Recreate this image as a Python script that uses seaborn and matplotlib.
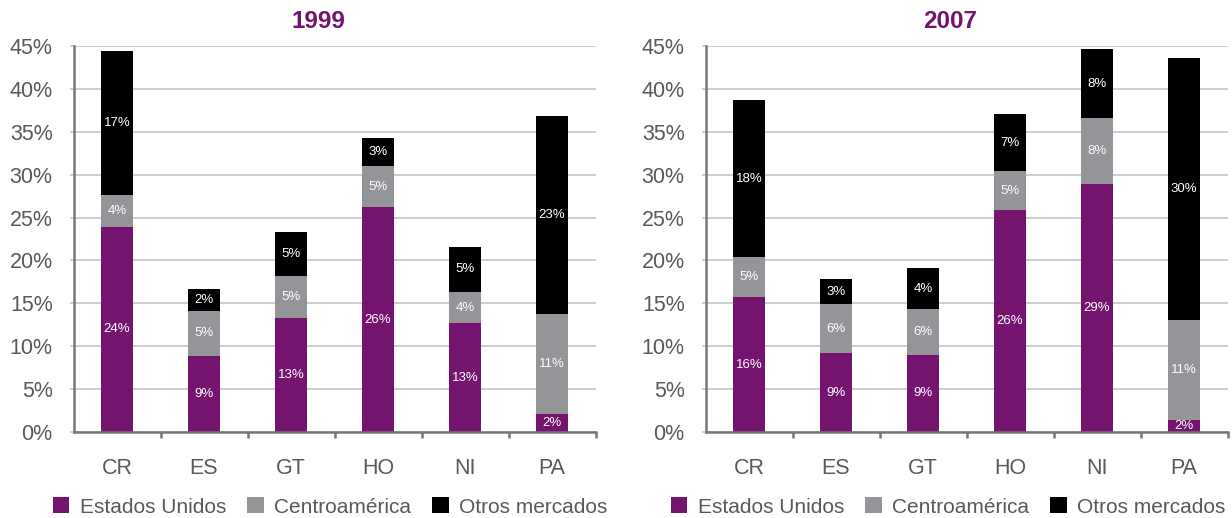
import matplotlib
matplotlib.use("Agg")
import matplotlib.pyplot as plt
import seaborn as sns
import numpy as np
from matplotlib.patches import Patch
from matplotlib.ticker import FixedLocator, FuncFormatter

# ---------------- data ----------------
categories = ["CR", "ES", "GT", "HO", "NI", "PA"]

us_1999 = [23.9, 8.9, 13.3, 26.2, 12.7, 2.1]
ca_1999 = [3.7, 5.2, 4.9, 4.8, 3.6, 11.6]
ot_1999 = [16.8, 2.6, 5.1, 3.3, 5.3, 23.1]
lab_us_1999 = ["24%", "9%", "13%", "26%", "13%", "2%"]
lab_ca_1999 = ["4%", "5%", "5%", "5%", "4%", "11%"]
lab_ot_1999 = ["17%", "2%", "5%", "3%", "5%", "23%"]

us_2007 = [15.7, 9.2, 9.0, 25.9, 28.9, 1.4]
ca_2007 = [4.7, 5.7, 5.3, 4.5, 7.7, 11.6]
ot_2007 = [18.3, 2.9, 4.8, 6.7, 8.0, 30.6]
lab_us_2007 = ["16%", "9%", "9%", "26%", "29%", "2%"]
lab_ca_2007 = ["5%", "6%", "6%", "5%", "8%", "11%"]
lab_ot_2007 = ["18%", "3%", "4%", "7%", "8%", "30%"]

series_names = ["Estados Unidos", "Centroamérica", "Otros mercados"]
y_ticks = [0, 5, 10, 15, 20, 25, 30, 35, 40, 45]

# ---------------- style ----------------
PURPLE = "#74146F"
GRAY = "#939598"
BLACK = "#000000"
TXT = "#595959"
colors = [PURPLE, GRAY, BLACK]

sns.set_theme(style="white")
plt.rcParams["font.family"] = ["Liberation Sans", "DejaVu Sans"]

W, H = 1232, 518
fig = plt.figure(figsize=(W / 100, H / 100), dpi=100)

ax_w = 522 / W
ax_h = (432 - 46) / H
ax_b = 1 - 432 / H
ax1 = fig.add_axes([73.5 / W, ax_b, ax_w, ax_h])
ax2 = fig.add_axes([705.5 / W, ax_b, ax_w, ax_h])


def draw(ax, us, ca, ot, lus, lca, lot):
    us = np.array(us)
    ca = np.array(ca)
    ot = np.array(ot)
    tot = us + ca + ot
    mid = us + ca
    for vals, col in [(tot, BLACK), (mid, GRAY), (us, PURPLE)]:
        sns.barplot(x=categories, y=vals, color=col, width=0.37,
                    saturation=1, ax=ax, linewidth=0, edgecolor="none",
                    errorbar=None)
    for i in range(len(categories)):
        ax.text(i, us[i] / 2, lus[i], ha="center", va="center",
                color="white", fontsize=9.5)
        ax.text(i, us[i] + ca[i] / 2, lca[i], ha="center", va="center",
                color="white", fontsize=9.5)
        ax.text(i, mid[i] + ot[i] / 2, lot[i], ha="center", va="center",
                color="white", fontsize=9.5)
    ax.set_xlim(-0.5, len(categories) - 0.5)
    ax.set_ylim(0, 45)
    ax.set_xlabel("")
    ax.set_ylabel("")
    ax.yaxis.set_major_locator(FixedLocator(y_ticks))
    ax.yaxis.set_major_formatter(FuncFormatter(lambda v, p: f"{v:.0f}%"))
    ax.grid(axis="y", color="#c0c0c0", linewidth=1.1)
    ax.grid(axis="x", visible=False)
    ax.set_axisbelow(True)
    for s in ["top", "right"]:
        ax.spines[s].set_visible(False)
    for s in ["left", "bottom"]:
        ax.spines[s].set_color("#777777")
        ax.spines[s].set_linewidth(1.8)
    ax.xaxis.set_minor_locator(FixedLocator(np.arange(0.5, len(categories), 1.0)))
    ax.tick_params(axis="x", which="major", length=0, pad=19,
                   labelsize=15.5, labelcolor=TXT)
    ax.tick_params(axis="x", which="minor", length=4, width=1.8,
                   color="#777777", direction="out", bottom=True)
    ax.tick_params(axis="y", which="major", length=3, width=1.1,
                   color="#c0c0c0", pad=12, labelsize=15.5, labelcolor=TXT,
                   left=True)


draw(ax1, us_1999, ca_1999, ot_1999, lab_us_1999, lab_ca_1999, lab_ot_1999)
draw(ax2, us_2007, ca_2007, ot_2007, lab_us_2007, lab_ca_2007, lab_ot_2007)

fig.text(318 / W, 1 - 22 / H, "1999", ha="center", va="center",
         fontsize=17.5, fontweight="bold", color=PURPLE)
fig.text(950 / W, 1 - 22 / H, "2007", ha="center", va="center",
         fontsize=17.5, fontweight="bold", color=PURPLE)

handles = [Patch(facecolor=c, edgecolor="none") for c in colors]
for cx in [330, 948]:
    fig.legend(handles, series_names, loc="center",
               bbox_to_anchor=(cx / W, 1 - 507 / H), ncol=3, frameon=False,
               fontsize=15, labelcolor=TXT, handlelength=0.8,
               handleheight=0.8, handletextpad=0.5, columnspacing=1.0,
               borderpad=0, borderaxespad=0)

fig.savefig("out.png", dpi=100, facecolor="white")
